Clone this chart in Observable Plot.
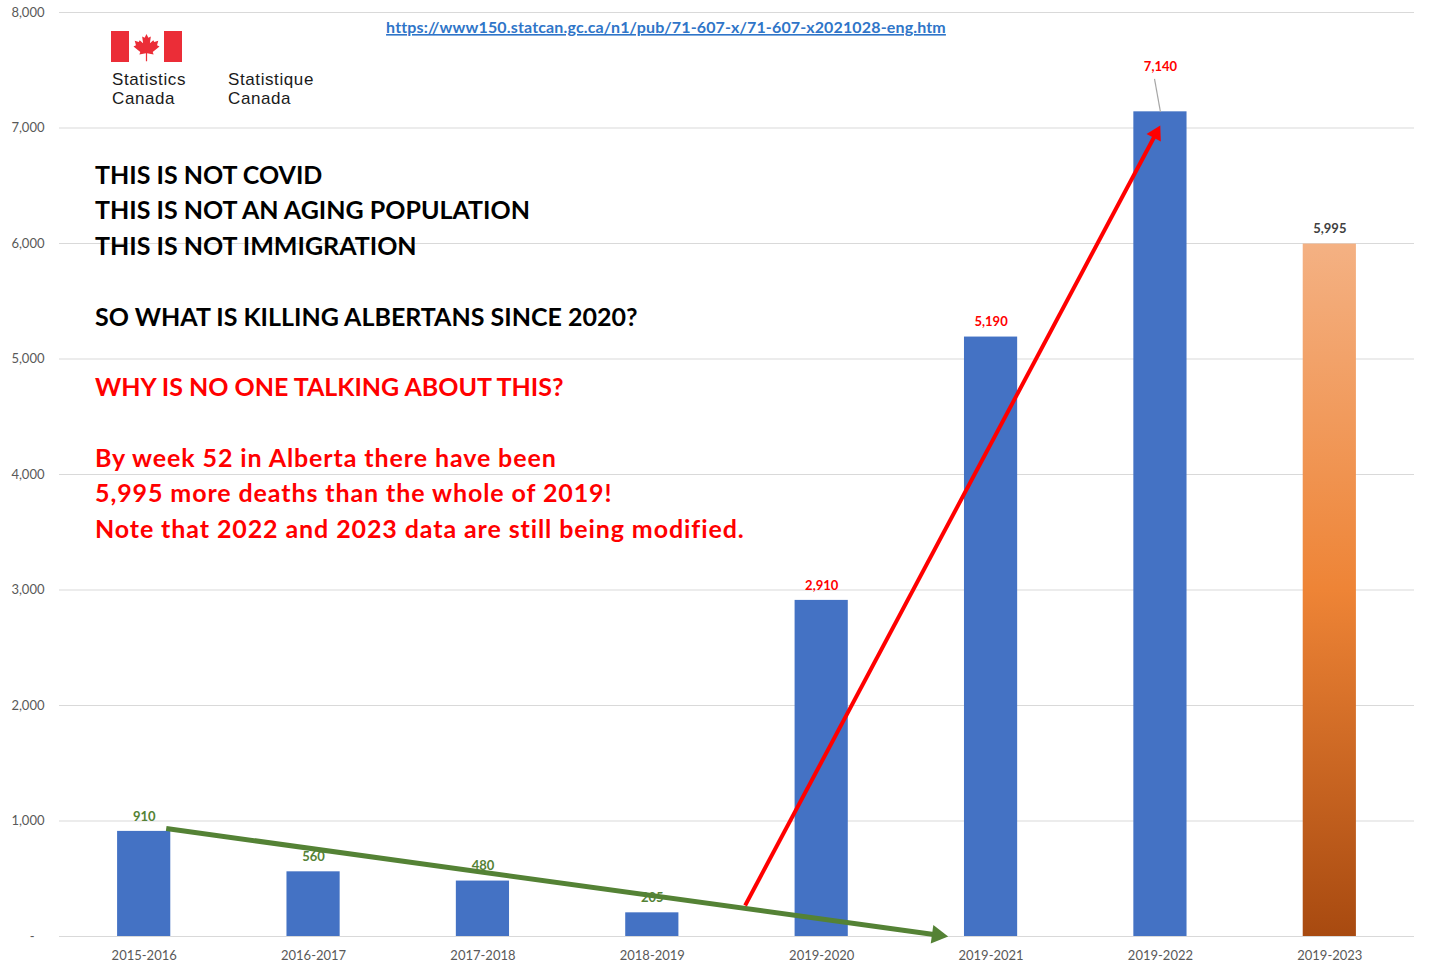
<!DOCTYPE html>
<html><head><meta charset="utf-8">
<script src="https://cdn.jsdelivr.net/npm/d3@7"></script>
<script src="https://cdn.jsdelivr.net/npm/@observablehq/plot@0.6"></script>
<style>
html,body{margin:0;padding:0;background:#fff;}
#wrap{position:relative;width:1429px;height:965px;overflow:hidden;background:#fff;}
#wrap > svg{position:absolute;left:0;top:0;}
</style></head><body><div id="wrap"></div>
<script>
// ---- data ----
const periods = ["2015-2016","2016-2017","2017-2018","2018-2019","2019-2020","2019-2021","2019-2022","2019-2023"];
const deaths = [910, 560, 480, 205, 2910, 5190, 7140, 5995];
const yTicks = [0,1000,2000,3000,4000,5000,6000,7000,8000];
const sourceUrl = "https://www150.statcan.gc.ca/n1/pub/71-607-x/71-607-x2021028-eng.htm";
const blackLines = ["THIS IS NOT COVID","THIS IS NOT AN AGING POPULATION","THIS IS NOT IMMIGRATION","SO WHAT IS KILLING ALBERTANS SINCE 2020?"];
const redLines = ["WHY IS NO ONE TALKING ABOUT THIS?","By week 52 in Alberta there have been","5,995 more deaths than the whole of 2019!","Note that 2022 and 2023 data are still being modified."];
// trend arrows (data space: x = category index, y = deaths)
const greenTrend = {x1: 0.13, y1: 935, x2: 4.747, y2: 0};
const redTrend = {x1: 3.548, y1: 268, x2: 5.999, y2: 7022};

const rows = periods.map((p, i) => ({i, period: p, deaths: deaths[i]}));

// ---- layout ----
const W = 1429, H = 965, mL = 59, mR = 15, mT = 12, mB = 29;
const halfBar = 0.157;
const sx = Plot.scale({x: {domain: [-0.5, 7.5], range: [mL, W - mR]}});
const sy = Plot.scale({y: {domain: [0, 8000], range: [H - mB, mT]}});

function arrowParts(a, r) {
  const x1 = sx.apply(a.x1), y1 = sy.apply(a.y1), x2 = sx.apply(a.x2), y2 = sy.apply(a.y2);
  const L = Math.hypot(x2 - x1, y2 - y1), ux = (x2 - x1) / L, uy = (y2 - y1) / L;
  const yy = Math.sqrt(Math.PI * r * r / (3 * Math.sqrt(3)));
  const cx = x2 - ux * 2 * yy, cy = y2 - uy * 2 * yy;
  return {
    shaft: [{x1: a.x1, y1: a.y1, x2: sx.invert(cx), y2: sy.invert(cy)}],
    head: [{x: sx.invert(cx), y: sy.invert(cy), rotate: Math.atan2(ux, -uy) * 180 / Math.PI}]
  };
}
const gA = arrowParts(greenTrend, 7);
const rA = arrowParts(redTrend, 6);

const fmt = d3.format(",");
const labelColor = i => i < 4 ? "#548235" : i < 7 ? "#FF0000" : "#404040";
const calloutIndex = 6, calloutLift = 30;
const leader = [{x1: calloutIndex, y1: deaths[calloutIndex], x2: calloutIndex - 0.035,
  y2: sy.invert(sy.apply(deaths[calloutIndex]) - 33)}];

const plot = Plot.plot({
  width: W, height: H,
  marginLeft: mL, marginRight: mR, marginTop: mT, marginBottom: mB,
  x: {domain: [-0.5, 7.5], axis: null},
  y: {domain: [0, 8000], axis: null},
  color: {type: "identity"},
  style: {fontFamily: "Lato, sans-serif", background: "white", overflow: "visible"},
  marks: [
    Plot.ruleY(yTicks, {stroke: "#d9d9d9", strokeWidth: 1.2}),
    Plot.text(yTicks, {y: d => d, frameAnchor: "left", dx: -15, textAnchor: "end",
      text: d => d === 0 ? "-\u00a0\u00a0\u00a0" : fmt(d), fill: "#595959", fontSize: 13}),
    Plot.text(rows, {x: "i", frameAnchor: "bottom", dy: 23, text: "period", fill: "#595959", fontSize: 13}),
    Plot.rectY(rows.filter(d => d.i < 7), {x1: d => d.i - halfBar, x2: d => d.i + halfBar, y: "deaths", fill: "#4472C4"}),
    Plot.rectY(rows.filter(d => d.i === 7), {x1: d => d.i - halfBar, x2: d => d.i + halfBar, y: "deaths", fill: "url(#bar2023)"}),
    Plot.text(rows.filter(d => d.i !== calloutIndex), {x: "i", y: "deaths", dy: -15,
      text: d => fmt(d.deaths), fill: d => labelColor(d.i), fontSize: 13, fontWeight: "bold"}),
    Plot.text(rows.filter(d => d.i === calloutIndex), {x: "i", y: "deaths", dy: -15 - calloutLift,
      text: d => fmt(d.deaths), fill: d => labelColor(d.i), fontSize: 13, fontWeight: "bold"}),
    Plot.link(leader, {x1: "x1", y1: "y1", x2: "x2", y2: "y2", stroke: "#a6a6a6", strokeWidth: 1.2}),
    Plot.link(gA.shaft, {x1: "x1", y1: "y1", x2: "x2", y2: "y2", stroke: "#548235", strokeWidth: 5}),
    Plot.dot(gA.head, {x: "x", y: "y", rotate: "rotate", symbol: "triangle", r: 7, fill: "#548235", stroke: "none"}),
    Plot.link(rA.shaft, {x1: "x1", y1: "y1", x2: "x2", y2: "y2", stroke: "#FF0000", strokeWidth: 4}),
    Plot.dot(rA.head, {x: "x", y: "y", rotate: "rotate", symbol: "triangle", r: 6, fill: "#FF0000", stroke: "none"})
  ]
});

d3.select(plot).insert("defs", ":first-child").html(
  `<linearGradient id="bar2023" x1="0" y1="0" x2="0" y2="1">
     <stop offset="0" stop-color="#F4B183"/>
     <stop offset="0.5" stop-color="#EE8436"/>
     <stop offset="1" stop-color="#A84A10"/>
   </linearGradient>`);

const wrap = document.getElementById("wrap");
wrap.appendChild(plot);

// ---- overlay: logo, source link, message ----
const ov = d3.select(wrap).append("svg")
  .attr("width", W).attr("height", H)
  .style("position", "absolute").style("left", 0).style("top", 0);

// Statistics Canada logo
ov.append("rect").attr("x", 111).attr("y", 31).attr("width", 18).attr("height", 31).attr("fill", "#EB2D37");
ov.append("rect").attr("x", 164).attr("y", 31).attr("width", 18).attr("height", 31).attr("fill", "#EB2D37");
const leaf = "M50,0 L56,12 L64,8 L61,30 L72,20 L75,26 L88,22 L84,36 L92,40 L70,58 L73,66 L52,62 L52,88 L48,88 L48,62 L27,66 L30,58 L8,40 L16,36 L12,22 L25,26 L28,20 L39,30 L36,8 L44,12 Z";
ov.append("path").attr("d", leaf).attr("fill", "#EB2D37")
  .attr("transform", "translate(131,34) scale(0.31)");
const logoFont = "'Liberation Sans', Arial, sans-serif";
[[["Statistics", "Canada"], 112], [["Statistique", "Canada"], 228]].forEach(([words, x]) => {
  words.forEach((w, k) => {
    ov.append("text").attr("x", x).attr("y", 84.5 + k * 19).text(w)
      .attr("font-family", logoFont).attr("font-size", 17).attr("letter-spacing", 0.6)
      .attr("fill", "#1a1a1a");
  });
});

// source link
ov.append("text").attr("x", 666).attr("y", 33).attr("text-anchor", "middle").text(sourceUrl)
  .attr("font-family", "Lato, sans-serif").attr("font-size", 16).attr("font-weight", "bold")
  .attr("letter-spacing", 0.15)
  .attr("fill", "#2F75C8").attr("text-decoration", "underline");

// message
const baselines = [183.5, 218.5, 254.5, 325.5, 395.5, 466.5, 501.5, 537.5];
const lines = blackLines.map(t => ({t, c: "#000"})).concat(redLines.map(t => ({t, c: "#FF0000"})));
lines.forEach((l, k) => {
  ov.append("text").attr("x", 95).attr("y", baselines[k]).text(l.t)
    .attr("font-family", "Lato, sans-serif").attr("font-size", 25).attr("font-weight", "bold")
    .attr("letter-spacing", k >= 5 ? 0.9 : 0)
    .attr("fill", l.c);
});
</script>
</body></html>
